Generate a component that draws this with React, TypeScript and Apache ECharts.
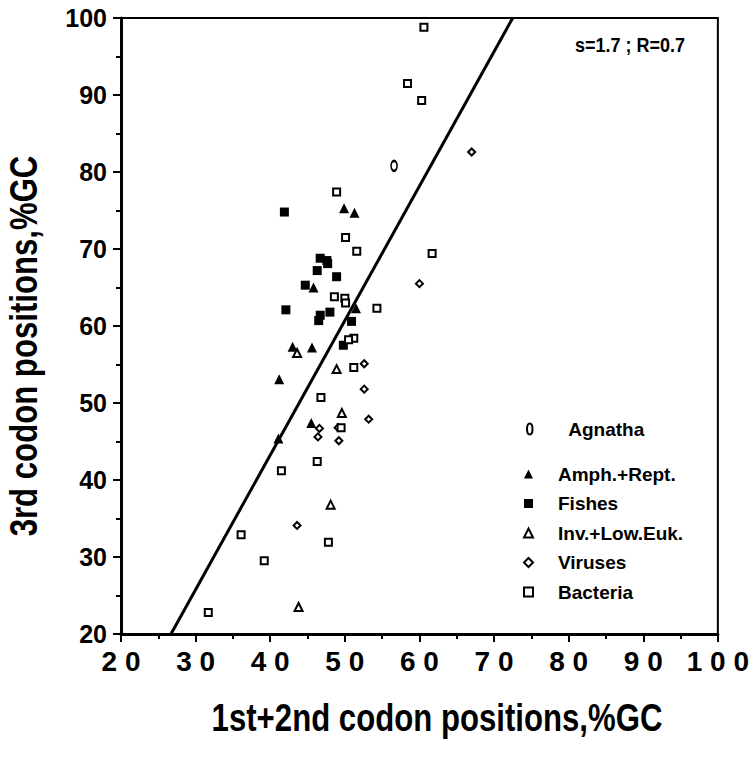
import React, { useEffect, useRef } from "react";
import * as echarts from "echarts";

const FONT = "'Liberation Sans', Arial, sans-serif";
const NARROW = 0.82;

const xTicks = [20, 30, 40, 50, 60, 70, 80, 90, 100];
const yTicks = [20, 30, 40, 50, 60, 70, 80, 90, 100];

const agnatha = [[56.6, 80.8]];
const amphRept = [
  [49.9, 75.3], [51.3, 74.7], [45.8, 65.0], [51.5, 62.3], [43.0, 57.3],
  [45.6, 57.2], [41.2, 53.1], [45.5, 47.4], [41.1, 45.4],
];
const fishes = [
  [41.9, 74.8], [46.7, 68.8], [47.6, 68.5], [47.7, 68.1], [46.3, 67.2],
  [48.9, 66.4], [44.7, 65.3], [42.1, 62.1], [48.0, 61.8], [46.7, 61.4],
  [46.5, 60.7], [50.9, 60.6], [49.8, 57.5],
];
const invLowEuk = [
  [43.6, 56.5], [48.9, 54.4], [49.6, 48.7], [48.1, 36.8], [43.8, 23.5],
];
const viruses = [
  [67.0, 82.6], [60.0, 65.5], [52.6, 55.1], [52.6, 51.8], [53.2, 47.9],
  [46.6, 46.7], [46.4, 45.6], [49.1, 46.8], [49.2, 45.1], [43.6, 34.1],
];
const bacteria = [
  [60.6, 98.8], [58.4, 91.5], [60.3, 89.3], [48.9, 77.4], [50.1, 71.5],
  [51.6, 69.7], [61.7, 69.4], [48.6, 63.8], [50.0, 63.6], [50.1, 63.0],
  [54.3, 62.3], [51.2, 58.4], [50.5, 58.2], [51.2, 54.6], [46.8, 50.7],
  [49.5, 46.8], [46.3, 42.4], [41.5, 41.2], [36.1, 32.9], [47.8, 31.9],
  [39.2, 29.5], [31.7, 22.8],
];
const fitLine = [[26.7, 20], [72.5, 100]];
const statsText = "s=1.7 ; R=0.7";
const xTitle = "1st+2nd codon positions,%GC";
const yTitle = "3rd codon positions,%GC";

const OVAL = "path://M5,0 C7.8,0 10,4.5 10,10 C10,15.5 7.8,20 5,20 C2.2,20 0,15.5 0,10 C0,4.5 2.2,0 5,0 Z";

export default function App() {
  const ref = useRef<HTMLDivElement>(null);
  useEffect(() => {
    if (!ref.current) return;
    const chart = echarts.init(ref.current, null, { renderer: "svg" });
    const legendText = (pad: number) => ({
      fontFamily: FONT,
      fontSize: 19,
      fontWeight: "bold",
      color: "#000",
      lineHeight: 22,
      padding: [0, 0, 0, pad],
    });
    const openStyle = { color: "#fff", borderColor: "#000", borderWidth: 2, opacity: 1 };
    const solidStyle = { color: "#000", opacity: 1 };
    const axisCommon = {
      type: "value",
      min: 20,
      max: 100,
      interval: 10,
      splitLine: { show: false },
      axisLine: { show: true, onZero: false, lineStyle: { color: "#000", width: 3 } },
      axisTick: { show: true, inside: false, length: 8, lineStyle: { color: "#000", width: 2 } },
      minorTick: { show: true, splitNumber: 2, length: 5, lineStyle: { color: "#000", width: 2 } },
    };
    chart.setOption({
      animation: false,
      backgroundColor: "#fff",
      grid: {
        left: 121,
        right: 30,
        top: 18,
        bottom: 130,
        show: true,
        borderColor: "#000",
        borderWidth: 2,
        backgroundColor: "transparent",
      },
      xAxis: {
        ...axisCommon,
        axisLabel: {
          margin: 13,
          fontFamily: FONT,
          fontSize: 28,
          fontWeight: "bold",
          color: "#000",
          formatter: (v: number) =>
            xTicks.includes(v) ? String(v).split("").join(" ") : "",
        },
      },
      yAxis: {
        ...axisCommon,
        axisLabel: {
          margin: 14,
          fontFamily: FONT,
          fontSize: 25,
          fontWeight: "bold",
          color: "#000",
          formatter: (v: number) => (yTicks.includes(v) ? String(v) : ""),
        },
      },
      legend: [
        {
          data: ["Agnatha"],
          orient: "vertical",
          left: 521,
          top: 413,
          itemWidth: 7,
          itemHeight: 11,
          selectedMode: false,
          textStyle: legendText(30),
        },
        {
          data: ["Amph.+Rept.", "Fishes", "Inv.+Low.Euk.", "Viruses", "Bacteria"],
          orient: "vertical",
          left: 518,
          top: 458,
          itemWidth: 9,
          itemHeight: 9,
          itemGap: 7.5,
          selectedMode: false,
          textStyle: legendText(20),
        },
      ],
      graphic: [
        {
          type: "text",
          x: 575,
          y: 45,
          scaleX: 0.9,
          style: {
            text: statsText,
            fontFamily: FONT,
            fontSize: 20,
            fontWeight: "bold",
            fill: "#000",
            align: "left",
            verticalAlign: "middle",
          },
        },
        {
          type: "text",
          x: 437,
          y: 718,
          scaleX: NARROW,
          style: {
            text: xTitle,
            fontFamily: FONT,
            fontSize: 38,
            fontWeight: "bold",
            fill: "#000",
            align: "center",
            verticalAlign: "middle",
          },
        },
        {
          type: "text",
          x: 24,
          y: 346,
          rotation: Math.PI / 2,
          scaleX: NARROW,
          style: {
            text: yTitle,
            fontFamily: FONT,
            fontSize: 38,
            fontWeight: "bold",
            fill: "#000",
            align: "center",
            verticalAlign: "middle",
          },
        },
      ],
      series: [
        {
          name: "fit",
          type: "line",
          data: fitLine,
          symbol: "none",
          lineStyle: { color: "#000", width: 3 },
          z: 1,
        },
        {
          name: "Agnatha",
          type: "scatter",
          data: agnatha,
          symbol: OVAL,
          symbolSize: [6, 10],
          itemStyle: openStyle,
        },
        {
          name: "Amph.+Rept.",
          type: "scatter",
          data: amphRept,
          symbol: "triangle",
          symbolSize: 10,
          itemStyle: solidStyle,
        },
        {
          name: "Fishes",
          type: "scatter",
          data: fishes,
          symbol: "rect",
          symbolSize: 9,
          itemStyle: solidStyle,
        },
        {
          name: "Inv.+Low.Euk.",
          type: "scatter",
          data: invLowEuk,
          symbol: "triangle",
          symbolSize: 8,
          itemStyle: openStyle,
        },
        {
          name: "Viruses",
          type: "scatter",
          data: viruses,
          symbol: "diamond",
          symbolSize: 7,
          itemStyle: openStyle,
        },
        {
          name: "Bacteria",
          type: "scatter",
          data: bacteria,
          symbol: "rect",
          symbolSize: 7,
          itemStyle: openStyle,
        },
      ],
    });
    return () => chart.dispose();
  }, []);
  return <div ref={ref} style={{ width: 752, height: 764, position: "absolute", left: 0, top: 0 }} />;
}
